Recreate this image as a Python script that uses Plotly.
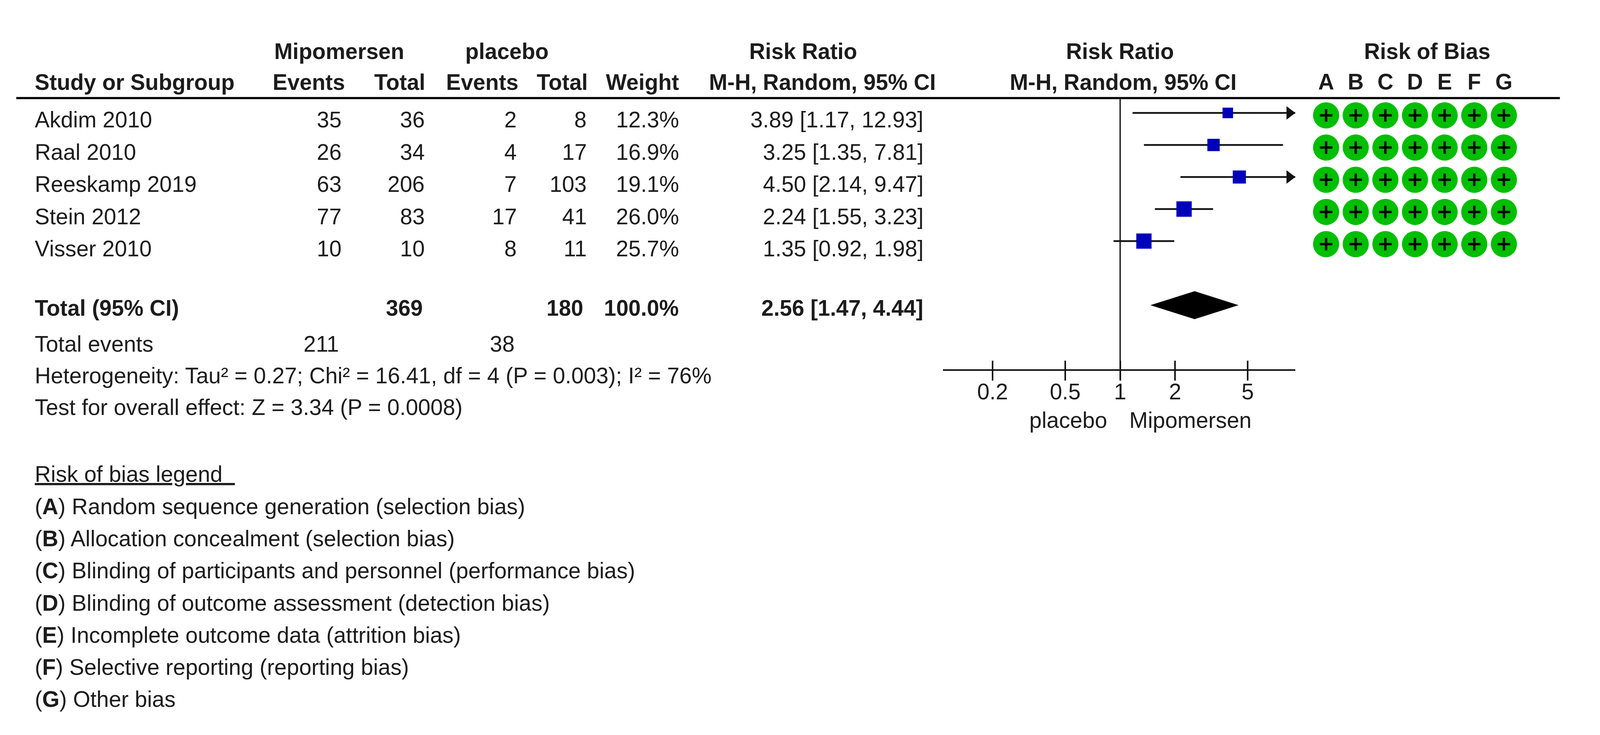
import plotly.graph_objects as go

studies = ["Akdim 2010", "Raal 2010", "Reeskamp 2019", "Stein 2012", "Visser 2010"]
events_drug = [35, 26, 63, 77, 10]
total_drug = [36, 34, 206, 83, 10]
events_placebo = [2, 4, 7, 17, 8]
total_placebo = [8, 17, 103, 41, 11]
weights = [12.3, 16.9, 19.1, 26.0, 25.7]
rr = [3.89, 3.25, 4.50, 2.24, 1.35]
ci_low = [1.17, 1.35, 2.14, 1.55, 0.92]
ci_high = [12.93, 7.81, 9.47, 3.23, 1.98]
total_rr, total_low, total_high = 2.56, 1.47, 4.44
tick_vals = [0.2, 0.5, 1, 2, 5]
tick_text = ["0.2", "0.5", "1", "2", "5"]
domains = ["A", "B", "C", "D", "E", "F", "G"]
legend_items = ["Random sequence generation (selection bias)", "Allocation concealment (selection bias)",
                "Blinding of participants and personnel (performance bias)",
                "Blinding of outcome assessment (detection bias)", "Incomplete outcome data (attrition bias)",
                "Selective reporting (reporting bias)", "Other bias"]

# Reference canvas and the window the page really gets
W, H = 4428, 1881
WIN_W, WIN_H, BODY = 4096, 1881, 8
SX = WIN_W / W
FS_REG, FS_BOLD = 56.9, 56.5
INK = "#1c1c1c"
FONT = "Liberation Sans"
X1, PPD = 3100.0, 505.0
AX_L, AX_R = 2610.0, 3584.5
ROW0, ROWH = 289.0, 82.0
AXIS_Y = 947.0

fx = lambda p: (p * SX - BODY) / (WIN_W - 2 * BODY)
fy = lambda p: 1 - (p * WIN_H / H - BODY) / (WIN_H - 2 * BODY)
row = lambda p: (p - ROW0) / ROWH
x_range = [(AX_L - X1) / PPD, (AX_R - X1) / PPD]

annotations = []
def label(px, baseline, text, anchor="left", bold=False):
    annotations.append(dict(xref="paper", yref="paper", x=fx(px), y=fy(baseline - 20), text=f"<b>{text}</b>" if bold else text,
                            xanchor=anchor, yanchor="middle", showarrow=False, align=anchor,
                            font=dict(family=FONT, size=FS_BOLD if bold else FS_REG, color=INK)))

fig = go.Figure()

# Header
label(757, 152, "Mipomersen", bold=True)
label(1285, 152, "placebo", bold=True)
label(2223, 152, "Risk Ratio", "center", True)
label(3099, 152, "Risk Ratio", "center", True)
label(3950, 152, "Risk of Bias", "center", True)
label(94, 230, "Study or Subgroup", bold=True)
label(957, 230, "Events", "right", True)
label(1179, 230, "Total", "right", True)
label(1437, 230, "Events", "right", True)
label(1629, 230, "Total", "right", True)
label(1881, 230, "Weight", "right", True)
label(2592, 230, "M-H, Random, 95% CI", "right", True)
label(3425, 230, "M-H, Random, 95% CI", "right", True)

# Study rows
baselines = [326, 409, 491, 574, 656]
for i, b in enumerate(baselines):
    label(94, b, studies[i])
    label(947, b, str(events_drug[i]), "right")
    label(1177, b, str(total_drug[i]), "right")
    label(1432, b, str(events_placebo[i]), "right")
    label(1626, b, str(total_placebo[i]), "right")
    label(1881, b, f"{weights[i]:.1f}%", "right")
    label(2558, b, f"{rr[i]:.2f} [{ci_low[i]:.2f}, {ci_high[i]:.2f}]", "right")

# Totals
label(94, 808, "Total (95% CI)", bold=True)
label(1172, 808, str(sum(total_drug)), "right", True)
label(1616, 808, str(sum(total_placebo)), "right", True)
label(1881, 808, "100.0%", "right", True)
label(2558, 808, f"{total_rr:.2f} [{total_low:.2f}, {total_high:.2f}]", "right", True)
label(94, 900, "Total events")
label(941, 900, str(sum(events_drug)), "right")
label(1426, 900, str(sum(events_placebo)), "right")
label(94, 981, "Heterogeneity: Tau² = 0.27; Chi² = 16.41, df = 4 (P = 0.003); I² = 76%")
label(94, 1062, "Test for overall effect: Z = 3.34 (P = 0.0008)")

# Legend
label(94, 1233, "<u>Risk of bias legend\u00a0\u00a0</u>")
for i, item in enumerate(legend_items):
    label(94, 1316 + i * 82.2, f"(<b>{domains[i]}</b>) {item}")

# Axis captions
label(2956, 1095, "placebo", "center")
label(3294, 1095, "Mipomersen", "center")

# Null line
fig.add_trace(go.Scatter(x=[1, 1], y=[row(251), row(972)], mode="lines", line=dict(color=INK, width=3.5),
                         hoverinfo="skip", cliponaxis=False))
# Whiskers
for i in range(len(studies)):
    fig.add_trace(go.Scatter(x=[ci_low[i], ci_high[i]], y=[i, i], mode="lines", line=dict(color="#111111", width=4.5),
                             hoverinfo="skip"))
# Arrowheads where CI runs off the axis
over = [i for i in range(len(studies)) if ci_high[i] > 10 ** x_range[1]]
fig.add_trace(go.Scatter(x=[10 ** (x_range[1] - 16 / PPD)] * len(over), y=over, mode="markers", cliponaxis=False,
                         marker=dict(symbol="triangle-right", size=30, color="#111111", line=dict(width=0)), hoverinfo="skip"))
# Point estimates, area scaled by weight
fig.add_trace(go.Scatter(x=rr, y=list(range(len(rr))), mode="markers",
                         marker=dict(symbol="square", size=[7.7 * w ** 0.5 for w in weights], color="#0000BB", opacity=1, line=dict(width=0)),
                         hoverinfo="skip"))
# Pooled diamond
dh = 35.5 / ROWH
fig.add_trace(go.Scatter(x=[total_low, total_rr, total_high, total_rr, total_low], y=[6, 6 - dh, 6, 6 + dh, 6],
                         mode="lines", fill="toself", fillcolor="#000000", line=dict(color="#000000", width=0.5), hoverinfo="skip"))

# Risk of bias grid
gx = [d for d in domains for _ in studies]
gy = [s for _ in domains for s in studies]
fig.add_trace(go.Scatter(x=gx, y=gy, xaxis="x3", yaxis="y2", mode="markers", cliponaxis=False,
                         marker=dict(symbol="circle", size=67, color="#00BE00", opacity=1, line=dict(width=0)), hoverinfo="skip"))
fig.add_trace(go.Scatter(x=gx, y=gy, xaxis="x3", yaxis="y2", mode="markers", cliponaxis=False,
                         marker=dict(symbol="cross-thin", size=23, line=dict(width=6, color="#000000")), hoverinfo="skip"))

axis_pos = fy(AXIS_Y)
fig.update_layout(
    margin=dict(l=0, r=0, t=0, b=0, pad=0),
    paper_bgcolor="white", plot_bgcolor="rgba(0,0,0,0)", showlegend=False,
    annotations=annotations,
    xaxis=dict(type="log", range=x_range, domain=[fx(AX_L), fx(AX_R)], anchor="free", position=axis_pos, side="bottom",
               showline=True, linecolor="#111111", linewidth=4, ticks="outside", ticklen=25, tickwidth=3.5, tickcolor="#111111",
               tickmode="array", tickvals=tick_vals, ticktext=tick_text, showgrid=False, zeroline=False,
               tickfont=dict(family=FONT, size=FS_REG, color=INK), ticklabelstandoff=-20),
    xaxis2=dict(type="log", range=x_range, domain=[fx(AX_L), fx(AX_R)], anchor="free", position=axis_pos, side="top",
                overlaying="x", showline=False, ticks="outside", ticklen=24, tickwidth=3.5, tickcolor="#111111",
                tickmode="array", tickvals=tick_vals, showticklabels=False, showgrid=False, zeroline=False),
    yaxis=dict(range=[row(H - BODY), row(BODY)], domain=[0, 1], visible=False, anchor="x"),
    xaxis3=dict(type="category", categoryorder="array", categoryarray=domains, range=[-0.5, 6.5],
                domain=[fx(3629), fx(4203)], anchor="y2", side="top", ticks="", showline=False, showgrid=False, zeroline=False,
                tickfont=dict(family=FONT, size=FS_BOLD, color=INK, weight="bold"), ticklabelstandoff=13),
    yaxis2=dict(type="category", categoryorder="array", categoryarray=studies, range=[4.5, -0.5],
                domain=[fy(666), fy(254)], anchor="x3", visible=False),
    shapes=[dict(type="line", xref="paper", yref="paper", x0=fx(45), x1=fx(4317), y0=fy(251), y1=fy(251),
                 line=dict(color="#000000", width=5.5))],
)
fig.add_trace(go.Scatter(x=[1], y=[0], xaxis="x2", mode="markers", marker=dict(opacity=0), hoverinfo="skip"))
fig.write_html("out.html")
